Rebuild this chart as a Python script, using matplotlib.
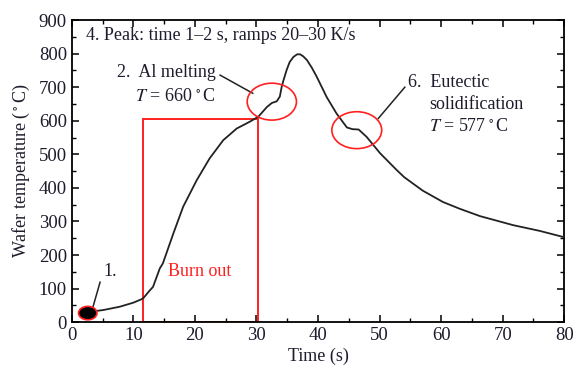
import matplotlib
matplotlib.use("Agg")
import matplotlib.pyplot as plt
from matplotlib.patches import Ellipse, Rectangle
from matplotlib.ticker import MultipleLocator

plt.rcParams['font.family'] = ['Liberation Serif', 'DejaVu Serif']
plt.rcParams['mathtext.fontset'] = 'stix'

time_s = [2.6, 2.9, 5.1, 7.8, 10.0, 11.3, 11.6, 12.7, 13.2, 14.3, 14.8, 16.5, 18.1, 20.3, 22.4, 24.6, 26.8,
          28.9, 30.3, 31.7, 32.5, 33.3, 33.8, 34.1, 34.4, 34.9, 35.4, 36.0, 36.6, 37.1, 37.6, 38.2, 39.0, 39.8,
          41.4, 43.0, 44.7, 45.6, 46.6, 47.9, 50.1, 52.8, 54.0, 57.0, 60.3, 63.0, 66.3, 71.7, 76.0, 80.0]
temp_c = [29, 31, 36, 46, 58, 68, 71, 95, 105, 160, 175, 264, 344, 423, 488, 542, 577,
          597, 612, 641, 653, 658, 672, 701, 721, 751, 775, 790, 798, 798, 792, 781, 758, 731,
          671, 622, 580, 575, 574, 552, 503, 453, 432, 392, 358, 338, 316, 289, 272, 253]

rect_t = [11.5, 30.2]
rect_top = 605

fig = plt.figure(figsize=(5.74, 3.72), dpi=100)
ax = fig.add_axes([0.125, 0.134, 0.858, 0.812])
ax.set_xlim(0, 80)
ax.set_ylim(0, 900)

ax.plot(time_s, temp_c, color='#222222', lw=1.3, zorder=3, solid_joinstyle='round')

ax.add_patch(Rectangle((rect_t[0], 0), rect_t[1] - rect_t[0], rect_top, fill=False,
                       edgecolor='#ff2020', lw=1.4, zorder=2))
ax.text(20.8, 150, 'Burn out', color='#ff2020', fontsize=13, ha='center', va='center')

ax.add_patch(Ellipse((2.6, 27), 3.0, 40, facecolor='black', edgecolor='#ff2020', lw=1.2, zorder=4))
ax.add_patch(Ellipse((32.5, 657), 8.0, 110, fill=False, edgecolor='#ff2020', lw=1.2, zorder=4))
ax.add_patch(Ellipse((46.3, 572), 8.1, 110, fill=False, edgecolor='#ff2020', lw=1.2, zorder=4))

tc = '#1c1c2c'
ax.plot([3.3, 4.6], [36, 119], color='#222222', lw=1.1)
ax.text(5.1, 150, '1.', fontsize=13, color=tc, ha='left', va='center')

ax.plot([24.1, 29.4], [736, 682], color='#222222', lw=1.1)
ax.text(23.4, 745, '2.  Al melting', fontsize=13, color=tc, ha='right', va='center')
ax.text(16.8, 671, r'$T$ = 660$\,^\circ$C', fontsize=13, color=tc, ha='center', va='center')

ax.plot([54.1, 49.8], [700, 607], color='#222222', lw=1.1)
ax.text(54.6, 715, '6.  Eutectic', fontsize=13, color=tc, ha='left', va='center')
ax.text(58.0, 649, 'solidification', fontsize=13, color=tc, ha='left', va='center')
ax.text(58.0, 584, r'$T$ = 577$\,^\circ$C', fontsize=13, color=tc, ha='left', va='center')

ax.text(2.3, 855, '4. Peak: time 1–2 s, ramps 20–30 K/s', fontsize=13, color=tc, ha='left', va='center')

ax.xaxis.set_major_locator(MultipleLocator(10))
ax.xaxis.set_minor_locator(MultipleLocator(5))
ax.yaxis.set_major_locator(MultipleLocator(100))
ax.yaxis.set_minor_locator(MultipleLocator(50))
ax.tick_params(which='both', direction='in', top=True, right=True, labelsize=13.5, labelcolor=tc)
ax.tick_params(which='major', length=5, width=1.1)
ax.tick_params(which='minor', length=3, width=1.0)
for s in ax.spines.values():
    s.set_linewidth(1.3)

ax.set_xlabel('Time (s)', fontsize=13, color=tc, labelpad=3)
ax.set_ylabel(r'Wafer temperature ($^\circ$C)', fontsize=13, color=tc, labelpad=5)

fig.savefig('out.png', dpi=100)
